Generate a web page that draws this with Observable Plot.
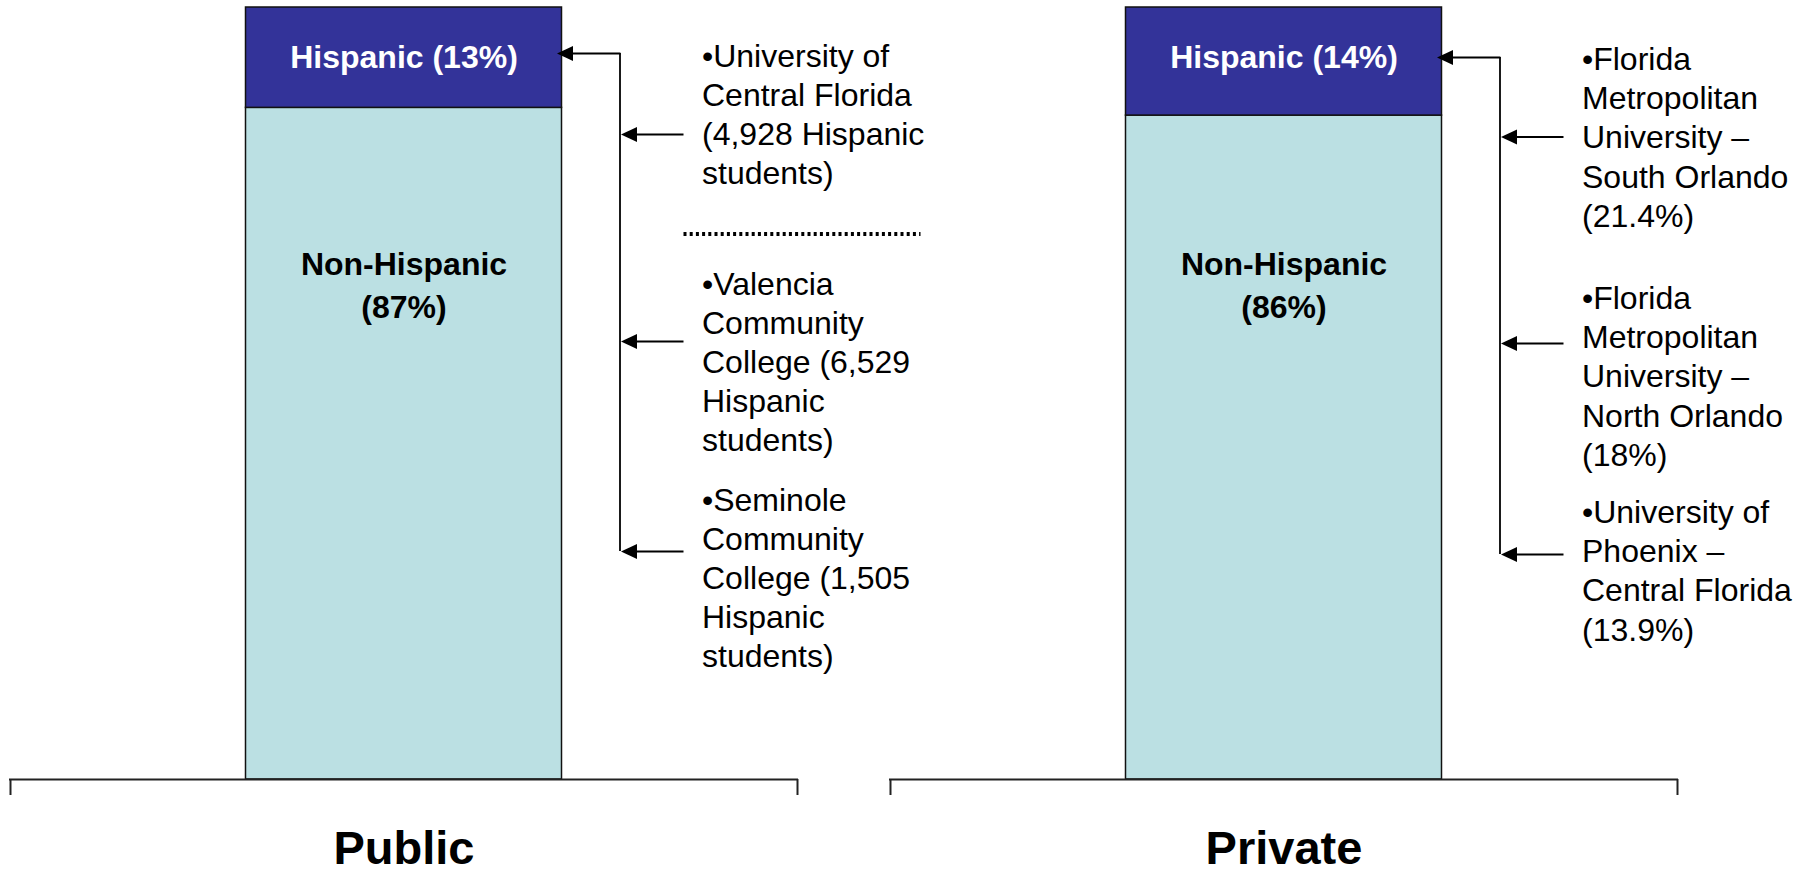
<!DOCTYPE html>
<html>
<head>
<meta charset="utf-8">
<script src="https://cdn.jsdelivr.net/npm/d3@7"></script>
<script src="https://cdn.jsdelivr.net/npm/@observablehq/plot@0.6"></script>
<style>
  html, body { margin: 0; padding: 0; background: #fff; }
  #chart svg { display: block; }
</style>
</head>
<body>
<div id="chart"></div>
<script>
// ---------------- data ----------------
const categories = ["Public", "Private"];
const groups = ["Non-Hispanic", "Hispanic"];
const hispanicShare = [13, 14];
const nonHispanicShare = [87, 86];
const publicInstitutions = [
  "•University of\nCentral Florida\n(4,928 Hispanic\nstudents)",
  "•Valencia\nCommunity\nCollege (6,529\nHispanic\nstudents)",
  "•Seminole\nCommunity\nCollege (1,505\nHispanic\nstudents)"
];
const privateInstitutions = [
  "•Florida\nMetropolitan\nUniversity –\nSouth Orlando\n(21.4%)",
  "•Florida\nMetropolitan\nUniversity –\nNorth Orlando\n(18%)",
  "•University of\nPhoenix –\nCentral Florida\n(13.9%)"
];

// ---------------- layout (pixels) ----------------
const W = 1795, H = 873;
const M = {top: 7, right: 117, bottom: 94, left: 9};
const padInner = 0.1034;
const FONT = "'Liberation Sans', Arial, Helvetica, sans-serif";
const ink = "#000";
const barHalf = 158;          // half bar width from band centre
const tipDx = 153;            // arrow tip at the bar edge
const connDx = 216;           // vertical connector
const leadDx = 280;           // start of leader arrows near the text
const textDx = 298;           // text column
const dotEnd = 517;           // end of dotted divider
const bracketDrop = 16;
const noteFs = 32, noteLh = 1.22;
const annot = {
  Public:  {notes: publicInstitutions,  capTops: [43.5, 271.5, 487.5], leads: [134, 341, 551], topArrow: 53, divider: [233.5]},
  Private: {notes: privateInstitutions, capTops: [47, 286, 500],      leads: [136.5, 343, 554], topArrow: 57, divider: []}
};
const hispLabelCapTop = 44.5;
const nonHispLabelCapTop = 251.5;

// scales used to convert layout pixels into data units
const xScale = Plot.scale({x: {type: "band", domain: categories, range: [M.left, W - M.right], paddingInner: padInner, paddingOuter: 0, round: false}});
const bw = xScale.bandwidth;
const yScale = Plot.scale({y: {type: "linear", domain: [0, 100], range: [H - M.bottom, M.top]}});
const yv = (py) => yScale.invert(py);
const capTopToY = (capTop, fs, lh) => capTop - (0.71 * lh - 0.716) * fs;

// ---------------- derived tables ----------------
const rows = categories.flatMap((c, i) => [
  {type: c, group: "Non-Hispanic", value: nonHispanicShare[i]},
  {type: c, group: "Hispanic", value: hispanicShare[i]}
]);
const topArrows = categories.map(c => ({type: c, y: yv(annot[c].topArrow)}));
const leadRows = categories.flatMap(c => annot[c].leads.map(py => ({type: c, y: yv(py)})));
const connRows = categories.map(c => ({type: c, y1: yv(annot[c].leads[annot[c].leads.length - 1]), y2: yv(annot[c].topArrow)}));
const noteRows = categories.flatMap(c => annot[c].notes.map((t, k) => ({type: c, text: t, y: yv(capTopToY(annot[c].capTops[k], noteFs, noteLh))})));
const dividerRows = categories.flatMap(c => annot[c].divider.map(py => ({type: c, y: yv(py)})));
const hispLabels = categories.map((c, i) => ({type: c, text: `Hispanic (${hispanicShare[i]}%)`, y: yv(capTopToY(hispLabelCapTop, 32, 1))}));
const nonHispLabels = categories.map((c, i) => ({type: c, text: `Non-Hispanic\n(${nonHispanicShare[i]}%)`, y: yv(capTopToY(nonHispLabelCapTop, 32, 1.36))}));

const arrowHead = {
  draw(ctx, size) {
    const L = Math.sqrt(size / Math.PI);
    ctx.moveTo(0, 0);
    ctx.lineTo(L, -0.47 * L);
    ctx.lineTo(L, 0.47 * L);
    ctx.closePath();
  }
};

const lw = 1.8;
const chart = Plot.plot({
  width: W, height: H,
  marginTop: M.top, marginRight: M.right, marginBottom: M.bottom, marginLeft: M.left,
  style: {fontFamily: FONT, background: "white", color: "black", overflow: "visible"},
  x: {type: "band", domain: categories, paddingInner: padInner, paddingOuter: 0, round: false, axis: null},
  y: {type: "linear", domain: [0, 100], axis: null},
  color: {domain: groups, range: ["#BBE0E3", "#333399"]},
  marks: [
    Plot.barY(rows, Plot.stackY({
      x: "type", y: "value", fill: "group", order: groups,
      stroke: "#111", strokeWidth: 1.5,
      insetLeft: bw / 2 - barHalf, insetRight: bw / 2 - barHalf
    })),
    // category brackets
    Plot.tickY(categories, {x: d => d, y: () => 0, stroke: "#222", strokeWidth: 2}),
    Plot.ruleX(categories, {x: d => d, y1: () => 0, y2: () => yv(H - M.bottom + bracketDrop), dx: -bw / 2 + 1, stroke: "#222", strokeWidth: 2}),
    Plot.ruleX(categories, {x: d => d, y1: () => 0, y2: () => yv(H - M.bottom + bracketDrop), dx: bw / 2 - 1, stroke: "#222", strokeWidth: 2}),
    // connectors
    Plot.ruleX(connRows, {x: "type", y1: "y1", y2: "y2", dx: connDx, stroke: ink, strokeWidth: lw}),
    Plot.tickY(topArrows, {x: "type", y: "y", insetLeft: bw / 2 + tipDx + 8, insetRight: bw / 2 - connDx - 0.9, stroke: ink, strokeWidth: lw}),
    Plot.tickY(leadRows, {x: "type", y: "y", insetLeft: bw / 2 + connDx + 8, insetRight: bw / 2 - leadDx, stroke: ink, strokeWidth: lw}),
    Plot.dot(topArrows, {x: "type", y: "y", dx: tipDx, symbol: arrowHead, r: 16, fill: ink, stroke: null}),
    Plot.dot(leadRows, {x: "type", y: "y", dx: connDx + 1, symbol: arrowHead, r: 16, fill: ink, stroke: null}),
    Plot.tickY(dividerRows, {x: "type", y: "y", insetLeft: bw / 2 + leadDx, insetRight: bw / 2 - dotEnd, stroke: ink, strokeWidth: 4, strokeDasharray: "3,3.2"}),
    // notes
    Plot.text(noteRows, {x: "type", y: "y", text: "text", dx: textDx, textAnchor: "start", lineAnchor: "top", lineHeight: noteLh, fontSize: noteFs, fontFamily: FONT, fill: ink}),
    // bar labels
    Plot.text(hispLabels, {x: "type", y: "y", text: "text", lineAnchor: "top", lineHeight: 1, fontSize: 32, fontWeight: "bold", fontFamily: FONT, fill: "white"}),
    Plot.text(nonHispLabels, {x: "type", y: "y", text: "text", lineAnchor: "top", lineHeight: 1.36, fontSize: 32, fontWeight: "bold", fontFamily: FONT, fill: ink}),
    // category labels
    Plot.text(categories, {x: d => d, text: d => d, frameAnchor: "bottom", dy: 51, lineAnchor: "top", lineHeight: 1, fontSize: 47, fontWeight: "bold", fontFamily: FONT, fill: ink})
  ]
});
document.getElementById("chart").appendChild(chart);
</script>
</body>
</html>
